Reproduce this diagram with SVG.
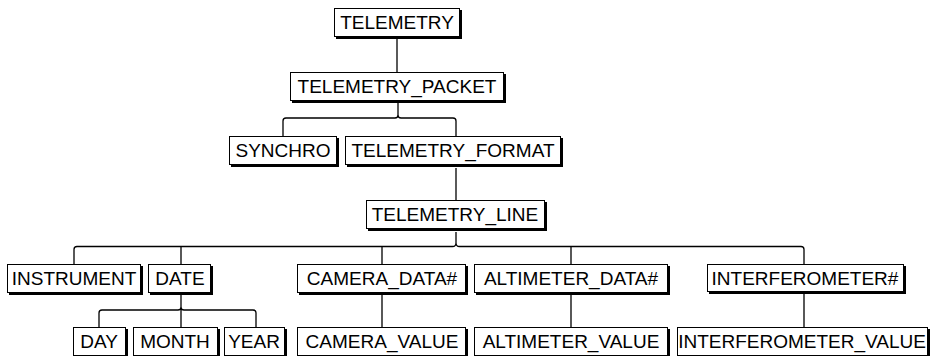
<svg xmlns="http://www.w3.org/2000/svg" width="930" height="356" viewBox="0 0 930 356">
<style>
.sh{fill:#000}
.bx{fill:#fff;stroke:#000;stroke-width:1}
.t{font-family:"Liberation Sans",Arial,sans-serif;font-size:19px;fill:#000;text-anchor:middle}
.c{fill:none;stroke:#000;stroke-width:1.3}
</style>
<rect width="930" height="356" fill="#fff"/>
<g id="connectors">
<path class="c" d="M397,39V72"/>
<path class="c" d="M398,102V115Q398,118 395,118H286Q283,118 283,121V136M398,115Q398,118 401,118H453Q456,118 456,121V136"/>
<path class="c" d="M456,168V200"/>
<path class="c" d="M456,232V243Q456,246.5 452.5,246.5H77Q74,246.5 74,249.5V264M456,243Q456,246.5 459.5,246.5H801Q804,246.5 804,249.5V264M181,246.5V264M382,246.5V264M571,246.5V264"/>
<path class="c" d="M181,295V327M181,307Q181,310 178,310H102Q99,310 99,313V327M181,307Q181,310 184,310H253Q256,310 256,313V327"/>
<path class="c" d="M382,295V327M571,295V327M804,294V327"/>
</g>
<g id="n-telemetry"><rect class="sh" x="336" y="10" width="126" height="29"/><rect class="bx" x="334.5" y="8.5" width="125" height="28"/><text class="t" x="397" y="29">TELEMETRY</text></g>
<g id="n-telemetry-packet"><rect class="sh" x="292" y="74" width="214" height="29"/><rect class="bx" x="290.5" y="72.5" width="213" height="28"/><text class="t" x="397" y="93">TELEMETRY_PACKET</text></g>
<g id="n-synchro"><rect class="sh" x="231" y="138" width="108" height="29"/><rect class="bx" x="229.5" y="136.5" width="107" height="28"/><text class="t" x="283" y="157">SYNCHRO</text></g>
<g id="n-telemetry-format"><rect class="sh" x="347" y="138" width="216" height="29"/><rect class="bx" x="345.5" y="136.5" width="215" height="28"/><text class="t" x="453" y="157">TELEMETRY_FORMAT</text></g>
<g id="n-telemetry-line"><rect class="sh" x="368" y="202" width="179" height="29"/><rect class="bx" x="366.5" y="200.5" width="178" height="28"/><text class="t" x="455" y="221">TELEMETRY_LINE</text></g>
<g id="n-instrument"><rect class="sh" x="9" y="266" width="134" height="29"/><rect class="bx" x="7.5" y="264.5" width="133" height="28"/><text class="t" x="74" y="285">INSTRUMENT</text></g>
<g id="n-date"><rect class="sh" x="150" y="266" width="63" height="29"/><rect class="bx" x="148.5" y="264.5" width="62" height="28"/><text class="t" x="180" y="285">DATE</text></g>
<g id="n-camera-data"><rect class="sh" x="299" y="266" width="169" height="29"/><rect class="bx" x="297.5" y="264.5" width="168" height="28"/><text class="t" x="382" y="285">CAMERA_DATA#</text></g>
<g id="n-altimeter-data"><rect class="sh" x="476" y="266" width="194" height="29"/><rect class="bx" x="474.5" y="264.5" width="193" height="28"/><text class="t" x="571" y="285">ALTIMETER_DATA#</text></g>
<g id="n-interferometer"><rect class="sh" x="709" y="266" width="197" height="28"/><rect class="bx" x="707.5" y="264.5" width="196" height="27"/><text class="t" x="805" y="285">INTERFEROMETER#</text></g>
<g id="n-day"><rect class="sh" x="75" y="329" width="53" height="29"/><rect class="bx" x="73.5" y="327.5" width="52" height="28"/><text class="t" x="99" y="348">DAY</text></g>
<g id="n-month"><rect class="sh" x="135" y="329" width="85" height="29"/><rect class="bx" x="133.5" y="327.5" width="84" height="28"/><text class="t" x="175" y="348">MONTH</text></g>
<g id="n-year"><rect class="sh" x="226" y="329" width="61" height="29"/><rect class="bx" x="224.5" y="327.5" width="60" height="28"/><text class="t" x="254" y="348">YEAR</text></g>
<g id="n-camera-value"><rect class="sh" x="299" y="329" width="169" height="29"/><rect class="bx" x="297.5" y="327.5" width="168" height="28"/><text class="t" x="382" y="348">CAMERA_VALUE</text></g>
<g id="n-altimeter-value"><rect class="sh" x="476" y="329" width="194" height="29"/><rect class="bx" x="474.5" y="327.5" width="193" height="28"/><text class="t" x="571" y="348">ALTIMETER_VALUE</text></g>
<g id="n-interferometer-value"><rect class="sh" x="679" y="329" width="251" height="29"/><rect class="bx" x="677.5" y="327.5" width="250" height="28"/><text class="t" x="802" y="348">INTERFEROMETER_VALUE</text></g>
</svg>
